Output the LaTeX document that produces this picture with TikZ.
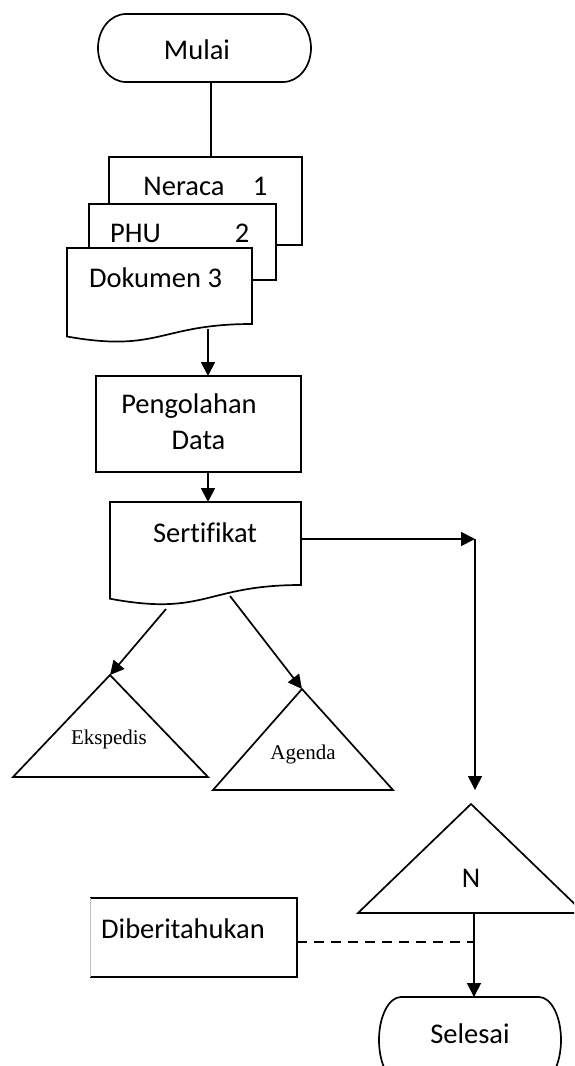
\documentclass[tikz,border=0pt]{standalone}
\usepackage{fontspec}
\setmainfont{Carlito}[Ligatures=NoCommon]
\newfontfamily\timesf{Liberation Serif}
\usetikzlibrary{arrows.meta}
\begin{document}
\begin{tikzpicture}[x=1pt,y=-1pt, line width=1.7pt,
  every node/.style={font=\fontsize{28.5}{34}\selectfont, inner sep=0pt},
  arr/.style={-{Triangle[length=14pt,width=14pt]}},
  shp/.style={draw=black, fill=white, line join=miter},
  lbl/.style={anchor=base},
  tlbl/.style={anchor=base, font=\timesf\fontsize{21}{25}\selectfont}]
\useasboundingbox (0,0) rectangle (574,1066);
\clip (0,0) rectangle (574,1066);

% Mulai terminator
\draw[shp] (126,14) -- (283,14) arc[start angle=-90,end angle=90,x radius=28,y radius=34]
  -- (126,82) arc[start angle=90,end angle=270,x radius=28,y radius=34] -- cycle;
\node[lbl] (mulai) at (197,59) {Mulai};
\coordinate (mulaiS) at (211,82);

% stacked documents
\draw[shp] (109,157) rectangle (302,245);
\coordinate (doc1N) at (211,157);
\node[lbl] (neraca) at (184,195) {Neraca};
\node[lbl] (one) at (260,195) {1};
\draw[shp] (89,204) rectangle (276,280);
\node[lbl] (phu) at (135.5,242) {PHU};
\node[lbl] (two) at (242,242) {2};
\draw[shp] (67,248) -- (252,248) -- (252,324) .. controls (159.5,324) and (159.5,353) .. (67,336.5) -- cycle;
\node[lbl] (dok) at (155.5,287) {Dokumen 3};
\coordinate (doc3S) at (208,329);

% Pengolahan Data
\draw[shp] (96,376) rectangle (301,472);
\node[lbl] (peng) at (189,413) {Pengolahan};
\node[lbl] (data) at (198.5,449) {Data};
\coordinate (pengN) at (208,376);
\coordinate (pengS) at (208,472);

% Sertifikat
\draw[shp] (110,502) -- (301,502) -- (301,585) .. controls (205.5,585) and (205.5,616.6) .. (110,598.7) -- cycle;
\node[lbl] (sert) at (205,542) {Sertifikat};
\coordinate (sertN) at (208,502);
\coordinate (sertE) at (301,539);
\coordinate (sertA) at (166,609);
\coordinate (sertB) at (230,596);
\coordinate (corner) at (475,539);

% triangles
\draw[shp] (110,675) -- (208,777) -- (13,777) -- cycle;
\coordinate (eksN) at (110,675);
\node[tlbl] (eks) at (109,744) {Ekspedis};
\draw[shp] (302,689) -- (393,790) -- (213,790) -- cycle;
\coordinate (agN) at (302,689);
\node[tlbl] (ag) at (303,759) {Agenda};
\draw[shp] (471,804) -- (584,913) -- (358,913) -- cycle;
\coordinate (nN) at (475,790);
\coordinate (nS) at (474,913);
\node[lbl] (n) at (471,887) {N};

% Diberitahukan
\draw[fill=white, draw=none] (90,898) rectangle (297,977);
\draw (90,898) -- (297,898) -- (297,977) -- (90,977);
\draw[line width=0.8pt, gray!50] (90,898) -- (90,977);
\node[lbl] (dib) at (183,938) {Diberitahukan};
\coordinate (dibE) at (297,942);
\coordinate (dashEnd) at (474,942);

% Selesai terminator
\draw[shp] (401,997) -- (539,997) arc[start angle=-90,end angle=90,x radius=22,y radius=43]
  -- (401,1083) arc[start angle=90,end angle=270,x radius=22,y radius=43] -- cycle;
\node[lbl] (sel) at (470,1043) {Selesai};
\coordinate (selN) at (474,997);

% connectors
\draw (mulaiS) -- (doc1N);
\draw[arr] (doc3S) -- (pengN);
\draw[arr] (pengS) -- (sertN);
\draw[arr] (sertE) -- (corner);
\draw[arr] (corner) -- (nN);
\draw[arr] (sertA) -- (eksN);
\draw[arr] (sertB) -- (agN);
\draw[arr] (nS) -- (selN);
\draw[dash pattern=on 10pt off 7pt] (dibE) -- (dashEnd);
\end{tikzpicture}
\end{document}
